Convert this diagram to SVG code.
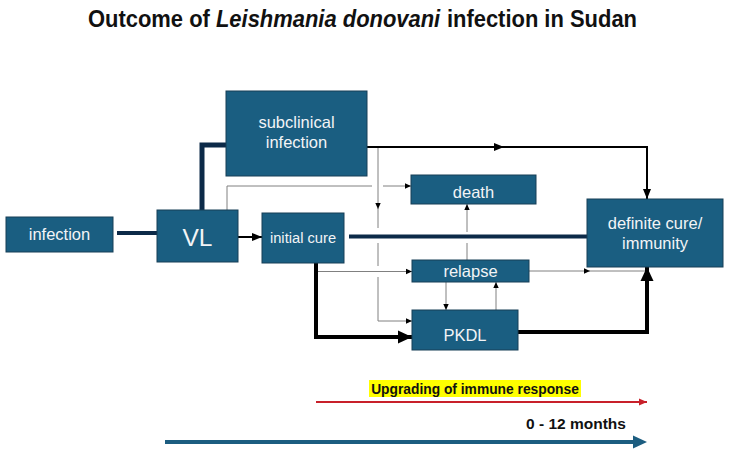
<svg xmlns="http://www.w3.org/2000/svg" width="733" height="452" viewBox="0 0 733 452">
<style>
.box{fill:#1a5e81;stroke:#163f57;stroke-width:1}
.lbl{fill:#f2f4f6;font-family:"Liberation Sans",Arial,sans-serif;font-size:16.5px;text-anchor:middle}
.navy{fill:none;stroke:#0c2a48}
.gray{fill:none;stroke:#808080;stroke-width:1}
.blk{fill:none;stroke:#000;stroke-width:2}
.thick{fill:none;stroke:#000;stroke-width:4}
.bold{font-family:"Liberation Sans",Arial,sans-serif;font-weight:bold;fill:#111}
</style>
<defs>
<marker id="aS" markerUnits="userSpaceOnUse" markerWidth="8" markerHeight="8" viewBox="0 0 8 8" refX="7" refY="4" orient="auto"><path d="M1,1.3 L7,4 L1,6.7 Z" fill="#000"/></marker>
<marker id="aM" markerUnits="userSpaceOnUse" markerWidth="12" markerHeight="12" viewBox="0 0 12 12" refX="11" refY="6" orient="auto"><path d="M1,2 L11,6 L1,10 Z" fill="#000"/></marker>
<marker id="aL" markerUnits="userSpaceOnUse" markerWidth="16" markerHeight="16" viewBox="0 0 16 16" refX="15" refY="8" orient="auto"><path d="M1,1.5 L15,8 L1,14.5 Z" fill="#000"/></marker>
<marker id="aR" markerUnits="userSpaceOnUse" markerWidth="10" markerHeight="10" viewBox="0 0 10 10" refX="9" refY="5" orient="auto"><path d="M1,1.5 L9,5 L1,8.5 Z" fill="#c8202a"/></marker>
</defs>

<text class="bold" x="362.5" y="27" style="font-size:23px" text-anchor="middle" textLength="549" lengthAdjust="spacingAndGlyphs">Outcome of <tspan font-style="italic">Leishmania donovani</tspan><tspan dx="7">infection in Sudan</tspan></text>

<g id="connectors">
<path class="navy" stroke-width="4" d="M117,233 H157"/>
<path class="navy" stroke-width="5" d="M202,210 V145 H226"/>
<path class="gray" d="M227,210 V186 H372"/>
<path class="gray" d="M383,186 H411" marker-end="url(#aS)"/>
<path class="blk" d="M238,237 H262" marker-end="url(#aM)"/>
<path class="navy" stroke-width="4" d="M349,236.5 H587"/>
<path class="blk" d="M367,147 H504" marker-end="url(#aM)"/>
<path class="blk" d="M503,147 H647 V199" marker-end="url(#aM)"/>
<path class="gray" d="M378,148 V209" marker-end="url(#aS)"/>
<path class="gray" d="M378,208 V228"/>
<path class="gray" d="M378,243 V266"/>
<path class="gray" d="M378,277 V321 H412" marker-end="url(#aS)"/>
<path class="gray" d="M316,271.5 H412" marker-end="url(#aS)"/>
<path class="thick" d="M316,263 V337 H412" marker-end="url(#aL)"/>
<path class="gray" d="M467,260 V243"/>
<path class="gray" d="M467,232 V204" marker-end="url(#aS)"/>
<path class="gray" d="M446,282 V310" marker-end="url(#aS)"/>
<path class="gray" d="M496,310 V282" marker-end="url(#aS)"/>
<path class="gray" d="M529,271 H590" marker-end="url(#aS)"/>
<path class="gray" d="M589,271 H645"/>
<path class="thick" d="M518,332 H647 V267" marker-end="url(#aL)"/>
</g>

<g id="infection"><rect class="box" x="6" y="217" width="107" height="35"/><text class="lbl" x="59.5" y="240">infection</text></g>
<g id="vl"><rect class="box" x="157" y="210" width="81" height="52"/><text class="lbl" x="197.5" y="246" style="font-size:24.5px">VL</text></g>
<g id="subclinical"><rect class="box" x="226" y="91" width="141" height="85"/><text class="lbl" x="296.5" y="128">subclinical</text><text class="lbl" x="296.5" y="148">infection</text></g>
<g id="initial-cure"><rect class="box" x="262" y="213" width="82" height="50"/><text class="lbl" x="303" y="243" style="font-size:14.7px">initial cure</text></g>
<g id="death"><rect class="box" x="411" y="175" width="125" height="29"/><text class="lbl" x="473.5" y="198">death</text></g>
<g id="relapse"><rect class="box" x="412" y="260" width="117" height="22"/><text class="lbl" x="470.5" y="277">relapse</text></g>
<g id="pkdl"><rect class="box" x="412" y="310" width="106" height="40"/><text class="lbl" x="465" y="341">PKDL</text></g>
<g id="definite-cure"><rect class="box" x="587" y="199" width="136" height="68"/><text class="lbl" x="655" y="229">definite cure/</text><text class="lbl" x="655" y="249">immunity</text></g>

<g id="timeline">
<rect x="369" y="380" width="212" height="17" fill="#ffff00"/>
<text class="bold" x="475" y="394" style="font-size:13.8px" text-anchor="middle">Upgrading of immune response</text>
<path d="M316,402 H647" stroke="#c8202a" stroke-width="2" fill="none" marker-end="url(#aR)"/>
<text class="bold" x="576" y="429" style="font-size:15.5px" text-anchor="middle">0 - 12 months</text>
<path d="M165,442 H635" stroke="#1c5d80" stroke-width="4" fill="none"/>
<path d="M633,435.5 L647,442 L633,448.5 Z" fill="#1c5d80"/>
</g>
</svg>
